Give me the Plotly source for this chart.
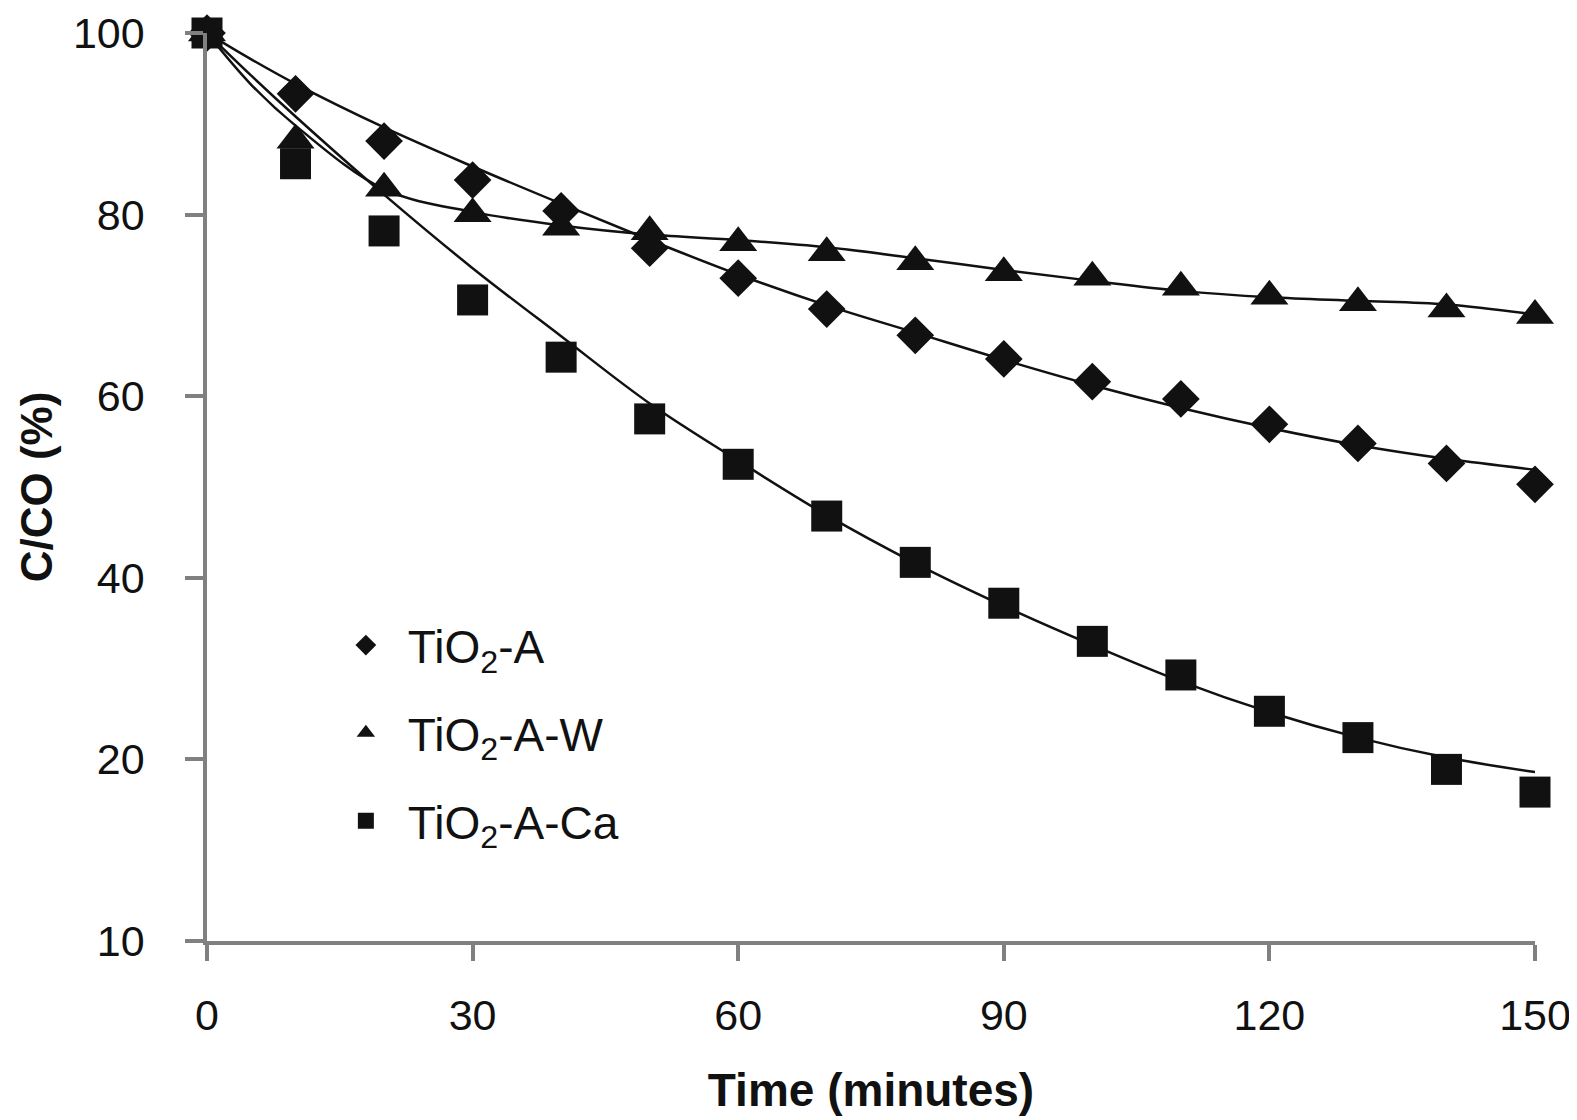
import plotly.graph_objects as go

# sampling times (minutes)
time_min = [0, 10, 20, 30, 40, 50, 60, 70, 80, 90, 100, 110, 120, 130, 140, 150]

tio2_a = [100, 93.3, 88.1, 83.8, 80.4, 76.3, 73.0, 69.6, 66.7, 64.1, 61.6, 59.7, 56.9, 54.8, 52.6, 50.3]
tio2_a_w = [100, 88.2, 82.9, 80.1, 78.6, 78.1, 76.9, 75.8, 74.8, 73.6, 73.1, 72.0, 71.0, 70.3, 69.6, 68.9]
tio2_a_ca = [100, 85.6, 78.2, 70.6, 64.3, 57.5, 52.5, 46.8, 41.7, 37.2, 33.0, 29.3, 25.3, 22.4, 18.9, 16.4]

# trend lines at the same times
fit_time = [0, 5, 10, 20, 30, 40, 50, 60, 70, 80, 90, 100, 110, 120, 130, 140, 150]
fit_a = [100, 97.1, 94.4, 89.6, 85.3, 81.2, 77.2, 73.4, 70.0, 67.0, 64.0, 61.2, 58.7, 56.5, 54.6, 53.1, 51.9]
fit_a_w = [100, 94.3, 89.8, 82.8, 80.3, 78.8, 77.8, 77.2, 76.4, 75.2, 73.9, 72.7, 71.6, 70.9, 70.5, 70.1, 69.0]
fit_a_ca = [100, 95.3, 90.8, 82.2, 74.1, 66.6, 59.2, 52.9, 46.9, 41.6, 36.9, 32.6, 28.6, 25.2, 22.4, 20.2, 18.6]

# y axis labels as printed (bottom one reads 10)
y_tickvals = [0, 20, 40, 60, 80, 100]
y_ticktext = ["10", "20", "40", "60", "80", "100"]
x_tickvals = [0, 30, 60, 90, 120, 150]

series = [
    ("TiO<sub>2</sub>-A", tio2_a, fit_a, "diamond", 29),
    ("TiO<sub>2</sub>-A-W", tio2_a_w, fit_a_w, "triangle-up", 33),
    ("TiO<sub>2</sub>-A-Ca", tio2_a_ca, fit_a_ca, "square", 31),
]

ink = "#111111"
grey = "#808080"

fig = go.Figure()
for i, (name, vals, fit, sym, sz) in enumerate(series):
    fig.add_trace(go.Scatter(x=time_min, y=vals, mode="markers", name=name,
                             legendgroup="g%d" % i,
                             marker=dict(symbol=sym, size=sz, color=ink, line=dict(width=0)),
                             cliponaxis=False))
for i, (name, vals, fit, sym, sz) in enumerate(series):
    fig.add_trace(go.Scatter(x=fit_time, y=fit, mode="lines", showlegend=False,
                             line=dict(color=ink, width=2.5, shape="spline", smoothing=1.0),
                             cliponaxis=False, hoverinfo="skip"))

fig.update_layout(
    width=1577, height=1120,
    margin=dict(l=199, r=50, t=25, b=187),
    plot_bgcolor="white", paper_bgcolor="white",
    font=dict(family="Liberation Sans, Arial, sans-serif", size=43, color=ink),
    showlegend=True,
    legend=dict(x=0.088, y=0.366, xanchor="left", yanchor="top",
                font=dict(size=46), tracegroupgap=25, bgcolor="rgba(0,0,0,0)",
                itemsizing="trace", itemwidth=74),
    xaxis=dict(range=[0, 150], tickvals=x_tickvals, showgrid=False, zeroline=False,
               automargin=False, ticklabeloverflow="allow",
               showline=True, linecolor=grey, linewidth=3.5,
               ticks="outside", ticklen=16, tickwidth=3.5, tickcolor=grey,
               ticklabelstandoff=18,
               title=dict(text="<b>Time (minutes)</b>", font=dict(size=46), standoff=36)),
    yaxis=dict(range=[0, 100], tickvals=y_tickvals, ticktext=y_ticktext,
               showgrid=False, zeroline=False, automargin=False,
               ticklabeloverflow="allow",
               showline=True, linecolor=grey, linewidth=3.5,
               ticks="outside", ticklen=18, tickwidth=3.5, tickcolor=grey,
               ticklabelstandoff=32,
               title=dict(text="<b>C/CO (%)</b>", font=dict(size=44), standoff=8)),
)

fig.write_html("out.html")
